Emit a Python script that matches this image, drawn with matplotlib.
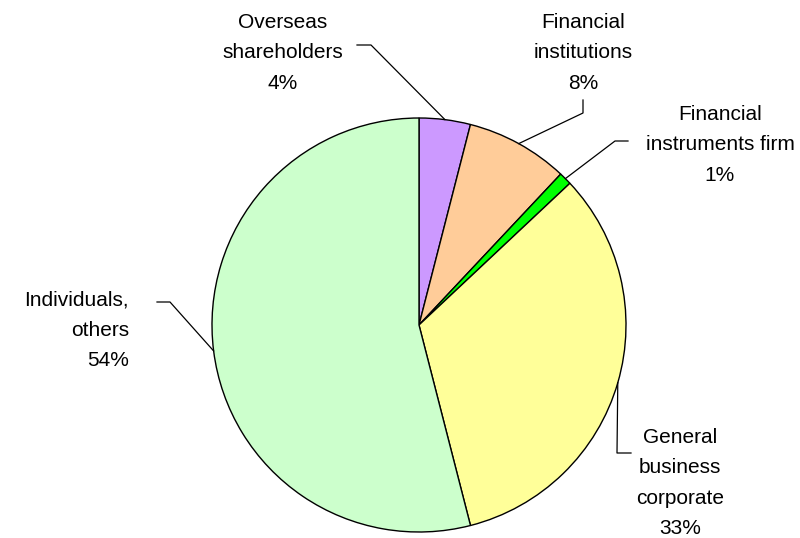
import numpy as np
import matplotlib
matplotlib.use('Agg')
import matplotlib.pyplot as plt

plt.rcParams['font.family'] = ['Liberation Sans', 'DejaVu Sans']

labels = ['Overseas\nshareholders', 'Financial\ninstitutions', 'Financial\ninstruments firm',
          'General\nbusiness\ncorporate', 'Individuals,\nothers']
shares = [4, 8, 1, 33, 54]
colors = ['#CC99FF', '#FFCC99', '#00FF00', '#FFFF99', '#CCFFCC']

# label anchor, leader elbow, alignment (pixel units, y down)
label_pos = [(283, 53), (583, 53), (720, 145), (680, 483), (129, 330)]
elbows = [[(357, 45), (371, 45)], [(583, 100), (583, 113)], [(628, 141), (615, 141)],
          [(631, 453), (617, 453)], [(157, 302), (170, 302)]]
aligns = ['center', 'center', 'center', 'center', 'right']

fig = plt.figure(figsize=(8, 5.38), dpi=100)
ax = fig.add_axes([0, 0, 1, 1])

cx, cy, r = 419, 325, 207
# y axis is flipped, so counterclock=True runs clockwise on screen
wedges, _ = ax.pie(shares, colors=colors, startangle=-90, counterclock=True,
                   center=(cx, cy), radius=r, frame=True,
                   wedgeprops=dict(edgecolor='black', linewidth=1))
ax.set_xlim(0, 800)
ax.set_ylim(538, 0)
ax.set_aspect('equal')
ax.axis('off')

for w, lab, val, pos, elb, ha in zip(wedges, labels, shares, label_pos, elbows, aligns):
    mid = np.deg2rad((w.theta1 + w.theta2) / 2)
    ex, ey = cx + r * np.cos(mid), cy + r * np.sin(mid)
    pts = elb + [(ex, ey)]
    ax.plot([p[0] for p in pts], [p[1] for p in pts], color='black', lw=0.9)
    ax.text(pos[0], pos[1], f'{lab}\n{val}%', ha=ha, va='center', multialignment=ha,
            fontsize=15, linespacing=1.75)

fig.savefig('out.png', dpi=100)
